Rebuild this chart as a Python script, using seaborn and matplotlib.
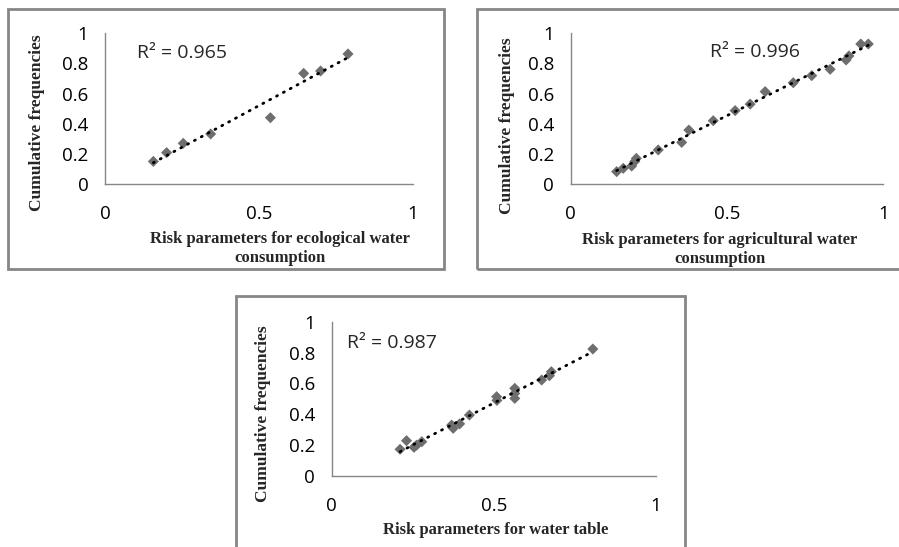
import numpy as np
import pandas as pd
import matplotlib
matplotlib.use("Agg")
import matplotlib.pyplot as plt
from matplotlib.patches import Rectangle
import seaborn as sns

# ---- data ----
eco_x = [0.157, 0.200, 0.254, 0.343, 0.537, 0.645, 0.700, 0.789]
eco_y = [0.150, 0.208, 0.270, 0.332, 0.440, 0.734, 0.750, 0.863]
eco_r2 = "R\u00b2 = 0.965"
eco_label = "Risk parameters for ecological water\nconsumption"

agr_x = [0.147, 0.168, 0.195, 0.205, 0.210, 0.280, 0.355, 0.378, 0.456, 0.526,
         0.574, 0.622, 0.712, 0.771, 0.830, 0.881, 0.890, 0.928, 0.952]
agr_y = [0.082, 0.104, 0.119, 0.150, 0.170, 0.226, 0.276, 0.358, 0.420, 0.487,
         0.530, 0.613, 0.672, 0.719, 0.761, 0.823, 0.850, 0.929, 0.929]
agr_r2 = "R\u00b2 = 0.996"
agr_label = "Risk parameters for agricultural water\nconsumption"

wt_x = [0.211, 0.231, 0.254, 0.262, 0.278, 0.370, 0.375, 0.395, 0.425, 0.509,
        0.510, 0.565, 0.565, 0.565, 0.648, 0.672, 0.678, 0.806]
wt_y = [0.173, 0.229, 0.186, 0.200, 0.222, 0.330, 0.309, 0.338, 0.395, 0.514,
        0.490, 0.568, 0.535, 0.503, 0.622, 0.650, 0.676, 0.823]
wt_r2 = "R\u00b2 = 0.987"
wt_label = "Risk parameters for water table"

y_label = "Cumulative frequencies"
x_ticks = [0, 0.5, 1]
x_ticklabels = ["0", "0.5", "1"]
y_ticks = [0, 0.2, 0.4, 0.6, 0.8, 1]
y_ticklabels = ["0", "0.2", "0.4", "0.6", "0.8", "1"]

sns.set_style("white")
plt.rcParams["font.family"] = ["Open Sans", "DejaVu Sans"]

W, H = 899, 547
fig = plt.figure(figsize=(W / 100, H / 100), dpi=100)

GRAY = "#868686"
MARK = "#6e6e6e"


def fig_rect(x0, y0, x1, y1):
    return [x0 / W, 1 - y1 / H, (x1 - x0) / W, (y1 - y0) / H]


# outer frames (pixel boxes)
for (x0, y0, x1, y1) in [(8, 9, 444, 269), (477, 9, 905, 269), (236, 296, 685, 560)]:
    fig.add_artist(Rectangle((x0 / W, 1 - y1 / H), (x1 - x0) / W, (y1 - y0) / H,
                             transform=fig.transFigure, fill=False,
                             edgecolor=GRAY, linewidth=2.0))

panels = [
    dict(rect=fig_rect(105, 33.3, 413, 184), x=eco_x, y=eco_y, r2=eco_r2,
         r2pos=(0.103, 0.866), xl=eco_label, xlpos=(0.567, -0.43),
         ylpos=(-0.22, 0.41)),
    dict(rect=fig_rect(570.7, 33.3, 883.3, 184), x=agr_x, y=agr_y, r2=agr_r2,
         r2pos=(0.446, 0.878), xl=agr_label, xlpos=(0.478, -0.435),
         ylpos=(-0.205, 0.39)),
    dict(rect=fig_rect(331.7, 321.7, 655.7, 476), x=wt_x, y=wt_y, r2=wt_r2,
         r2pos=(0.046, 0.86), xl=wt_label, xlpos=(0.506, -0.35),
         ylpos=(-0.212, 0.405)),
]

for p in panels:
    ax = fig.add_axes(p["rect"])
    df = pd.DataFrame({"x": p["x"], "y": p["y"]})
    sns.scatterplot(data=df, x="x", y="y", ax=ax, marker="D", s=32,
                    color=MARK, edgecolor="none", zorder=2)
    sns.regplot(data=df, x="x", y="y", ax=ax, scatter=False, ci=None,
                truncate=True,
                line_kws=dict(color="black", linewidth=2.0,
                              linestyle=(0, (0.4, 2.4)),
                              dash_capstyle="round", zorder=3))
    ax.set_xlim(0, 1)
    ax.set_ylim(0, 1)
    ax.set_xticks(x_ticks)
    ax.set_xticklabels(x_ticklabels)
    ax.set_yticks(y_ticks)
    ax.set_yticklabels(y_ticklabels)
    for s in ["top", "right"]:
        ax.spines[s].set_visible(False)
    for s in ["left", "bottom"]:
        ax.spines[s].set_color(GRAY)
        ax.spines[s].set_linewidth(1.0)
    ax.tick_params(axis="both", direction="out", length=6, width=1.0,
                   color=GRAY, labelsize=13.5, labelcolor="black")
    ax.tick_params(axis="x", pad=9)
    ax.tick_params(axis="y", pad=6)
    ax.set_xlabel("")
    ax.set_ylabel("")
    ax.text(p["xlpos"][0], p["xlpos"][1], p["xl"], transform=ax.transAxes,
            ha="center", va="center", fontsize=12, fontweight="bold",
            family="Liberation Serif", linespacing=1.25)
    ax.text(p["ylpos"][0], p["ylpos"][1], y_label, transform=ax.transAxes,
            ha="center", va="center", rotation=90, fontsize=12.5,
            fontweight="bold", family="Liberation Serif")
    ax.text(p["r2pos"][0], p["r2pos"][1], p["r2"], transform=ax.transAxes,
            ha="left", va="center", fontsize=14)
    ax.set_facecolor("white")

fig.savefig("out.png", dpi=100, facecolor="white")
